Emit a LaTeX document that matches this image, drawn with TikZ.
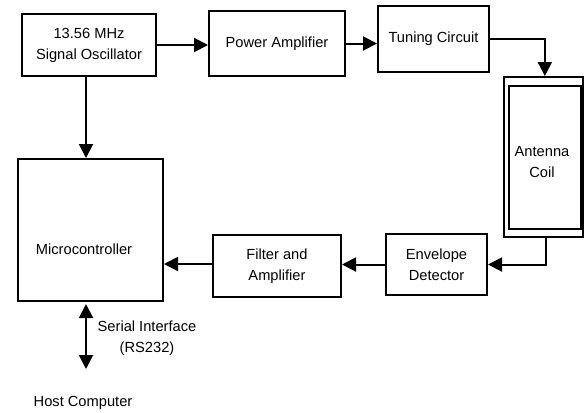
\documentclass[tikz,border=0pt]{standalone}
\usepackage{fontspec}
\setmainfont{Liberation Sans}
\usetikzlibrary{arrows.meta}
\begin{document}
\begin{tikzpicture}[x=0.75pt,y=-0.75pt,
  box/.style={draw,line width=1.5pt,rectangle,inner sep=0pt,align=center},
  txt/.style={font=\fontsize{11}{15.8}\selectfont,align=center},
  arr/.style={line width=1.5pt,-{Triangle[length=10.5pt,width=10.5pt]}},
  darr/.style={line width=1.5pt,{Triangle[length=10.5pt,width=10.5pt]}-{Triangle[length=10.5pt,width=10.5pt]}}]
\useasboundingbox (0,0) rectangle (584,412);
\node[box,txt,minimum width=100.5pt,minimum height=46.5pt] (osc) at (89,45) {13.56 MHz\\Signal Oscillator};
\node[box,txt,minimum width=102pt,minimum height=48.75pt] (pa) at (277,43.5) {Power Amplifier};
\node[box,txt,minimum width=83.25pt,minimum height=49.5pt] (tun) at (433.5,39) {Tuning Circuit};
\node[box,minimum width=59.25pt,minimum height=120pt] (ant) at (543.5,157) {};
\node[box,minimum width=54pt,minimum height=107.25pt] (anti) at (545,157.5) {};
\node[txt] (antt) at (542,162) {Antenna\\Coil};
\node[box,txt,minimum width=75.75pt,minimum height=45.75pt] (env) at (436.5,264.5) {Envelope\\Detector};
\node[box,txt,minimum width=96pt,minimum height=46.5pt] (filt) at (277,266) {Filter and\\Amplifier};
\node[box,minimum width=108.75pt,minimum height=106.5pt] (mcu) at (90.5,230) {};
\node[txt] (mcut) at (84,249) {Microcontroller};
\node[txt] (ser) at (147,338.5) {Serial Interface\\(RS232)};
\node[txt] (host) at (83,403) {Host Computer};
\coordinate (cx) at (86,0);
\coordinate (hc) at (86,369);
\draw[arr] (osc.east) -- (osc.east -| pa.west);
\draw[arr] (pa.east) -- (pa.east -| tun.west);
\draw[arr] (tun.east) -| ([xshift=1pt]ant.north);
\draw[arr] ([xshift=2pt]ant.south) |- (env.east);
\draw[arr] (env.west) -- (env.west -| filt.east);
\draw[arr] ([yshift=1.5pt]filt.west) -- ([yshift=1.5pt]filt.west -| mcu.east);
\draw[arr] (osc.south -| cx) -- (mcu.north -| cx);
\draw[darr] ([yshift=-1.5pt]mcu.south -| cx) -- (hc);
\end{tikzpicture}
\end{document}
